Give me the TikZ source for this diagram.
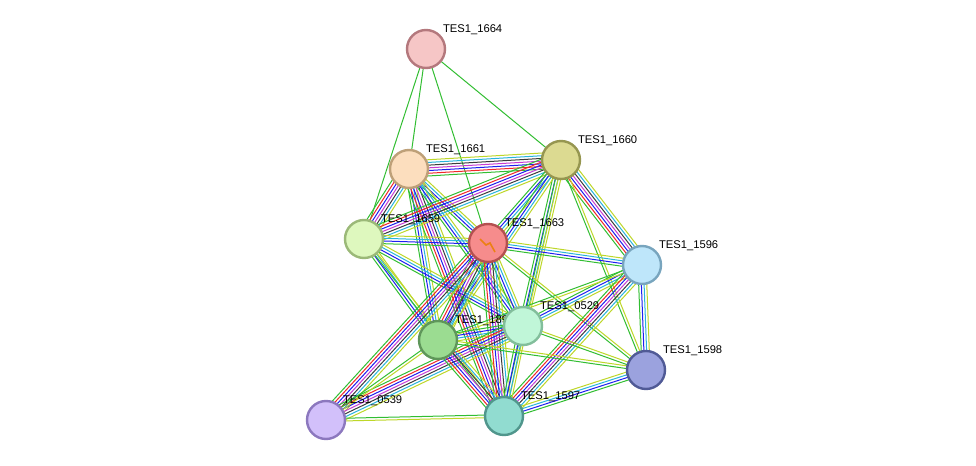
\documentclass[tikz,border=0pt]{standalone}
\usepackage{fontspec}
\setmainfont{Liberation Sans}
\usetikzlibrary{calc}
\definecolor{egreen}{RGB}{50,190,50}
\definecolor{ered}{RGB}{240,40,40}
\definecolor{eblue}{RGB}{30,30,240}
\definecolor{emag}{RGB}{200,60,210}
\definecolor{egray}{RGB}{60,60,60}
\definecolor{ecyan}{RGB}{40,180,220}
\definecolor{eyel}{RGB}{190,215,40}
\tikzset{
  prot/.style={circle, draw, line width=1.2pt, minimum size=19pt, inner sep=0pt},
  lbl/.style={font=\fontsize{5.6}{6}\selectfont, inner sep=0.6pt}
}
% bundle of parallel edges: from, to, count, colours
\newcommand{\bundle}[4]{%
  \foreach \c [count=\i] in #4 {
    \pgfmathsetmacro{\off}{(\i-(#3+1)/2)*1.35}
    \draw[\c, line width=0.5pt] ($(#1.center)!\off pt!90:(#2.center)$) -- ($(#2.center)!\off pt!-90:(#1.center)$);
  }}
\newcommand{\evfull}{egreen,ered,eblue,emag,egray,ecyan,eyel}
\newcommand{\evhalf}{egreen,eblue,ecyan,eyel}
\newcommand{\evfew}{egreen,eyel}

\begin{document}
\begin{tikzpicture}[x=0.5pt,y=-0.5pt]
    \fill[white] (0,0) rectangle (976,466);
    %% Proteins
    \coordinate (p1664) at (426,49);
    \coordinate (p1660) at (561,160);
    \coordinate (p1661) at (409,169);
    \coordinate (p1659) at (364,239);
    \coordinate (p1663) at (488,243);
    \coordinate (p1596) at (642,265);
    \coordinate (p0529) at (523,326);
    \coordinate (p18) at (438,340);
    \coordinate (p1598) at (646,370);
    \coordinate (p0539) at (326,420);
    \coordinate (p1597) at (504,416);
    %% Edges
    \foreach \t in {p1661,p1659,p1663,p1660}
      \draw[egreen, line width=0.5pt] (p1664) -- (\t);
    \bundle{p1661}{p1660}{7}{\evfull}
    \bundle{p1661}{p1659}{7}{\evfull}
    \bundle{p1661}{p1663}{4}{\evhalf}
    \bundle{p1661}{p18}{4}{\evhalf}
    \bundle{p1661}{p1597}{7}{\evfull}
    \bundle{p1661}{p0529}{4}{\evhalf}
    \bundle{p1660}{p1659}{7}{\evfull}
    \bundle{p1660}{p1663}{4}{\evhalf}
    \bundle{p1660}{p1596}{7}{\evfull}
    \bundle{p1660}{p0529}{4}{\evhalf}
    \bundle{p1660}{p18}{4}{\evhalf}
    \bundle{p1660}{p1598}{2}{\evfew}
    \bundle{p1660}{p1597}{2}{\evfew}
    \bundle{p1659}{p1663}{4}{\evhalf}
    \bundle{p1659}{p18}{4}{\evhalf}
    \bundle{p1659}{p0529}{4}{\evhalf}
    \bundle{p1659}{p1597}{2}{\evfew}
    \bundle{p1663}{p1596}{4}{\evhalf}
    \bundle{p1663}{p0529}{4}{\evhalf}
    \bundle{p1663}{p18}{7}{\evfull}
    \bundle{p1663}{p1597}{7}{\evfull}
    \bundle{p1663}{p1598}{2}{\evfew}
    \bundle{p1663}{p0539}{7}{\evfull}
    \bundle{p1596}{p0529}{4}{\evhalf}
    \bundle{p1596}{p18}{2}{\evfew}
    \bundle{p1596}{p1597}{7}{\evfull}
    \bundle{p1596}{p1598}{4}{\evhalf}
    \bundle{p0529}{p18}{4}{\evhalf}
    \bundle{p0529}{p1597}{4}{\evhalf}
    \bundle{p0529}{p1598}{2}{\evfew}
    \bundle{p0529}{p0539}{7}{\evfull}
    \bundle{p18}{p1597}{7}{\evfull}
    \bundle{p18}{p1598}{2}{\evfew}
    \bundle{p18}{p0539}{2}{\evfew}
    \bundle{p1597}{p1598}{4}{\evhalf}
    \bundle{p1597}{p0539}{2}{\evfew}
    %% Nodes
    \node[prot, fill={rgb,255:red,246;green,198;blue,198}, draw={rgb,255:red,180;green,120;blue,125}, label={[lbl]40:TES1\_1664}] (n1664) at (p1664) {};
    \node[prot, fill={rgb,255:red,220;green,218;blue,145}, draw={rgb,255:red,150;green,150;blue,80}, label={[lbl]40:TES1\_1660}] (n1660) at (p1660) {};
    \node[prot, fill={rgb,255:red,252;green,222;blue,190}, draw={rgb,255:red,190;green,160;blue,120}, label={[lbl]40:TES1\_1661}] (n1661) at (p1661) {};
    \node[prot, fill={rgb,255:red,222;green,248;blue,190}, draw={rgb,255:red,155;green,185;blue,120}, label={[lbl]40:TES1\_1659}] (n1659) at (p1659) {};
    \node[prot, fill={rgb,255:red,246;green,140;blue,140}, draw={rgb,255:red,180;green,80;blue,80}, label={[lbl]40:TES1\_1663}] (n1663) at (p1663) {};
    \draw[orange!70!brown, line width=0.8pt] ($(n1663)+(-8,-4)$) -- ($(n1663)+(-2,2)$) -- ($(n1663)+(2,0)$) -- ($(n1663)+(7,9)$);
    \node[prot, fill={rgb,255:red,190;green,230;blue,250}, draw={rgb,255:red,120;green,165;blue,190}, label={[lbl]40:TES1\_1596}] (n1596) at (p1596) {};
    \node[prot, fill={rgb,255:red,155;green,220;blue,145}, draw={rgb,255:red,95;green,150;blue,90}, label={[lbl]40:TES1\_1899}] (n18) at (p18) {};
    \node[prot, fill={rgb,255:red,192;green,246;blue,216}, draw={rgb,255:red,130;green,190;blue,155}, label={[lbl]40:TES1\_0529}] (n0529) at (p0529) {};
    \node[prot, fill={rgb,255:red,155;green,162;blue,222}, draw={rgb,255:red,80;green,90;blue,150}, label={[lbl]40:TES1\_1598}] (n1598) at (p1598) {};
    \node[prot, fill={rgb,255:red,210;green,192;blue,250}, draw={rgb,255:red,140;green,120;blue,190}, label={[lbl]40:TES1\_0539}] (n0539) at (p0539) {};
    \node[prot, fill={rgb,255:red,145;green,220;blue,208}, draw={rgb,255:red,80;green,150;blue,140}, label={[lbl]40:TES1\_1597}] (n1597) at (p1597) {};
\end{tikzpicture}
\end{document}
